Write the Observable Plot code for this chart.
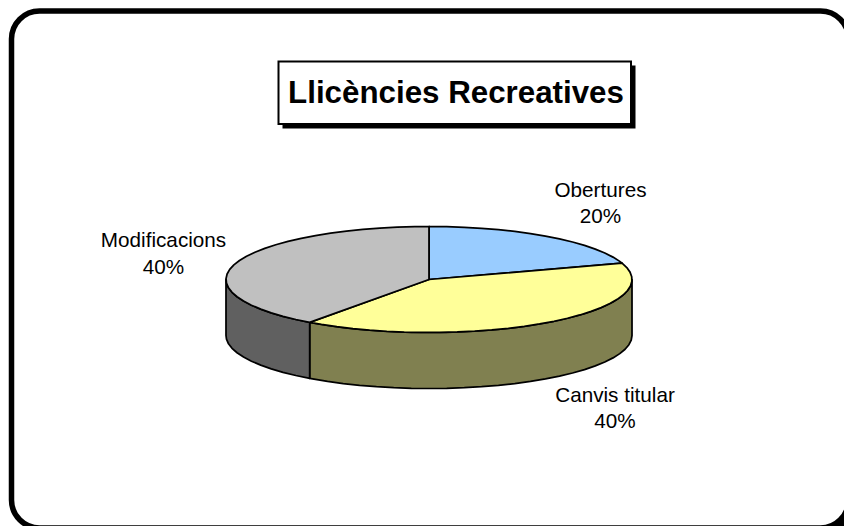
<!DOCTYPE html>
<html>
<head>
<meta charset="utf-8">
<script src="https://cdn.jsdelivr.net/npm/d3@7"></script>
<script src="https://cdn.jsdelivr.net/npm/@observablehq/plot@0.6"></script>
<style>html,body{margin:0;padding:0;background:#fff}svg{display:block}</style>
</head>
<body>
<div id="chart"></div>
<script>
const titleText = "Llicències Recreatives";
const categories = ["Obertures", "Canvis titular", "Modificacions"];
const shares = [20, 40, 40];
const topColors = ["#99CCFF", "#FFFF99", "#C0C0C0"];
const sideColors = ["#4C667F", "#808050", "#606060"];

const width = 844, height = 526;
const depth = 56 / 53;           // wall height in units of the ellipse's vertical radius
const stepDeg = 5;
const font = "Liberation Sans, Arial, sans-serif";

const labelPlacement = [
  {dx: 600, dy: 201},
  {dx: 614.5, dy: 406},
  {dx: 163, dy: 251.5}
];

const ends = d3.cumsum(shares).map(v => v / d3.sum(shares) * 360);
const slices = categories.map((c, i) => ({
  start: i ? ends[i - 1] : 0, end: ends[i], top: topColors[i], side: sideColors[i]
}));

const at = (deg, z = 0) => {
  const t = deg * Math.PI / 180;
  return {x: Math.sin(t), y: -Math.cos(t) + z};
};
const arc = (a, b, z = 0) => {
  const out = d3.range(a, b, stepDeg).map(d => at(d, z));
  out.push(at(b, z));
  return out;
};
const topPolygon = s => {
  const pts = [{x: 0, y: 0}, ...arc(s.start, s.end)];
  pts.push(pts[0]);
  return pts;
};
const sidePolygon = (s) => {
  const a = Math.max(s.start, 90), b = Math.min(s.end, 270);
  if (a >= b) return null;
  const pts = [...arc(a, b), ...arc(a, b, depth).reverse()];
  pts.push(pts[0]);
  return pts;
};
const outline = {x: "x", y: "y", stroke: "#000", strokeWidth: 1.75, strokeLinejoin: "round"};

const label = (i) => Plot.text([`${categories[i]}\n${shares[i]}%`], {
  frameAnchor: "top-left", dx: labelPlacement[i].dx, dy: labelPlacement[i].dy,
  textAnchor: "middle", lineAnchor: "middle", lineHeight: 1.29,
  fontFamily: font, fontSize: 20.7, fill: "#000"
});

const chart = Plot.plot({
  width, height, margin: 0,
  style: {background: "#fff", fontFamily: font},
  x: {domain: [-1, 1], range: [225.5, 631.5], axis: null},
  y: {domain: [-1, 1], range: [226, 332], axis: null},
  marks: [
    // page frame with its drop shadow, running off the right and bottom edges
    Plot.frame({insetLeft: 16, insetTop: 15.5, insetRight: -9, insetBottom: -6.5, rx: 28,
      fill: "#000", stroke: "none"}),
    Plot.frame({insetLeft: 11, insetTop: 10.5, insetRight: -4, insetBottom: -1.5, rx: 28,
      stroke: "#000", strokeWidth: 5.5, fill: "#fff"}),
    // title box with drop shadow
    Plot.frame({insetLeft: 282, insetTop: 65, insetRight: width - 635, insetBottom: height - 128,
      fill: "#000", stroke: "none"}),
    Plot.frame({insetLeft: 278, insetTop: 61, insetRight: width - 630.5, insetBottom: height - 123.5,
      fill: "#fff", stroke: "#000", strokeWidth: 2}),
    Plot.text([titleText], {frameAnchor: "top-left", dx: 455.5, dy: 92, textAnchor: "middle",
      lineAnchor: "middle", fontFamily: font, fontWeight: "bold", fontSize: 31.3, fill: "#000"}),
    // walls, then top faces
    ...slices.map(s => {
      const p = sidePolygon(s);
      return p ? Plot.line(p, {...outline, fill: s.side}) : null;
    }),
    ...slices.map(s => Plot.line(topPolygon(s), {...outline, fill: s.top})),
    ...categories.map((c, i) => label(i))
  ]
});
document.getElementById("chart").append(chart);
</script>
</body>
</html>
